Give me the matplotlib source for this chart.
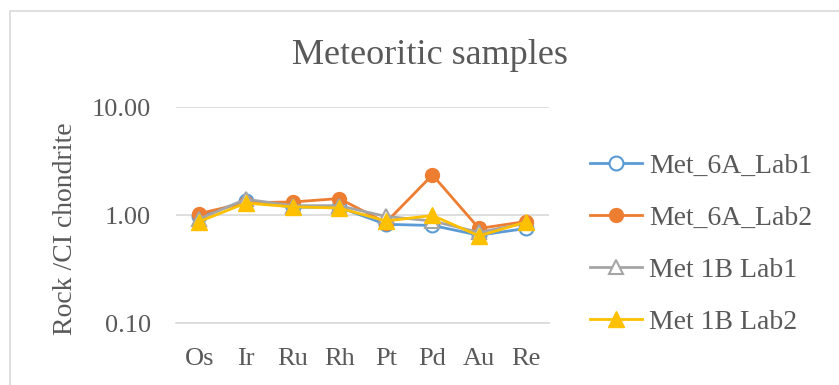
import matplotlib
matplotlib.use("Agg")
import matplotlib.pyplot as plt
from matplotlib.patches import Rectangle

elements = ["Os", "Ir", "Ru", "Rh", "Pt", "Pd", "Au", "Re"]
met_6a_lab1 = [0.97, 1.36, 1.18, 1.18, 0.82, 0.80, 0.65, 0.75]
met_6a_lab2 = [1.03, 1.30, 1.32, 1.42, 0.85, 2.35, 0.75, 0.87]
met_1b_lab1 = [0.92, 1.40, 1.22, 1.22, 0.97, 0.88, 0.69, 0.84]
met_1b_lab2 = [0.87, 1.29, 1.19, 1.16, 0.88, 0.99, 0.64, 0.86]

plt.rcParams["font.family"] = ["Liberation Serif", "DejaVu Serif"]
text_col = "#595959"

fig = plt.figure(figsize=(8.39, 3.85), dpi=100)
# chart frame (only top/left edges fall inside the image)
fig.patches.append(Rectangle((10 / 839, -0.1), 1.2, 1.1 - 11 / 385, transform=fig.transFigure,
                             fill=False, edgecolor="#d9d9d9", linewidth=1.2))
ax = fig.add_axes([176 / 839, 62 / 385, 373 / 839, 216 / 385])

x = range(len(elements))
ax.plot(x, met_6a_lab1, "-o", color="#5b9bd5", lw=2, ms=10, mfc="white",
        mec="#5b9bd5", mew=1.5, label="Met_6A_Lab1")
ax.plot(x, met_6a_lab2, "-o", color="#ed7d31", lw=2, ms=10, label="Met_6A_Lab2")
ax.plot(x, met_1b_lab1, "-^", color="#a5a5a5", lw=2, ms=10, mfc="white",
        mec="#a5a5a5", mew=1.5, label="Met 1B Lab1")
ax.plot(x, met_1b_lab2, "-^", color="#ffc000", lw=2, ms=11, label="Met 1B Lab2")

ax.set_yscale("log")
ax.set_ylim(0.1, 10)
ax.set_xlim(-0.5, len(elements) - 0.5)
ax.set_yticks([0.1, 1, 10])
ax.set_yticklabels(["0.10", "1.00", "10.00"])
ax.minorticks_off()
ax.set_xticks(list(x))
ax.set_xticklabels(elements)
ax.tick_params(length=0, labelsize=19, labelcolor=text_col)
ax.tick_params(axis="y", pad=18)
ax.tick_params(axis="x", pad=18)
ax.grid(axis="y", color="#d9d9d9", lw=1.2)
ax.set_axisbelow(True)
for s in ["top", "right", "left"]:
    ax.spines[s].set_visible(False)
ax.spines["bottom"].set_color("#d9d9d9")
ax.spines["bottom"].set_linewidth(1.2)
ax.set_ylabel("Rock /CI chondrite", fontsize=20, color=text_col)
ax.yaxis.set_label_coords(-(176 - 78) / 373, 0.435)

fig.text(430 / 839, 1 - 55 / 385, "Meteoritic samples", ha="center", va="center",
         fontsize=26, color=text_col)

fig.legend(loc="center left", bbox_to_anchor=(0.673, 0.366), frameon=False,
           fontsize=20, labelcolor=text_col, labelspacing=0.95,
           handlelength=1.9, handletextpad=0.25)

fig.savefig("out.png", dpi=100)
